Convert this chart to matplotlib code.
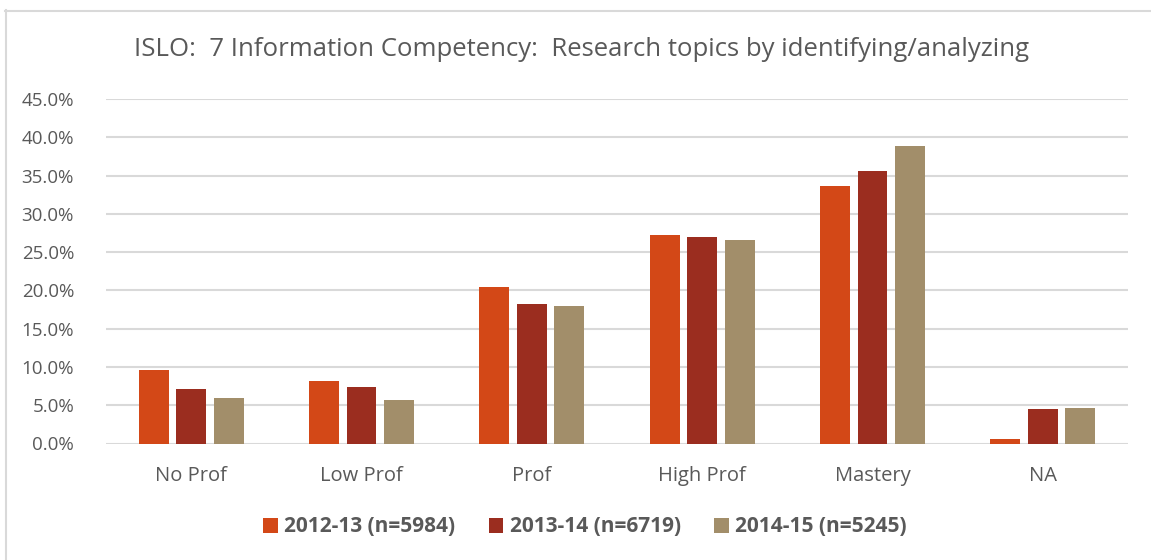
import numpy as np
import matplotlib.pyplot as plt
from matplotlib.lines import Line2D
from matplotlib.patches import Patch

categorias = ['No Prof', 'Low Prof', 'Prof', 'High Prof', 'Mastery', 'NA']
series = ['2012-13 (n=5984)', '2013-14 (n=6719)', '2014-15 (n=5245)']
v_2012 = [9.6, 8.2, 20.4, 27.2, 33.6, 0.6]
v_2013 = [7.1, 7.4, 18.2, 27.0, 35.6, 4.5]
v_2014 = [6.0, 5.7, 18.0, 26.6, 38.9, 4.6]
valores = [v_2012, v_2013, v_2014]
yticks = [0, 5, 10, 15, 20, 25, 30, 35, 40, 45]

COLORES = ['#D34817', '#9B2D1F', '#A28E6A']
GRIS = '#595959'
FUENTE = ['Open Sans', 'DejaVu Sans']

plt.rcParams['font.family'] = FUENTE

fig = plt.figure(figsize=(11.51, 5.60), dpi=100)
ax = fig.add_axes([106 / 1151, 1 - 443.5 / 560, (1128 - 106) / 1151, (443.5 - 99) / 560])

x = np.arange(len(categorias))
ancho = 0.176
paso = 0.221
for i, (vals, color) in enumerate(zip(valores, COLORES)):
    ax.bar(x + (i - 1) * paso, vals, width=ancho, color=color, zorder=3)

ax.set_xlim(-0.5, len(categorias) - 0.5)
ax.set_ylim(0, 45)
ax.set_yticks(yticks)
ax.set_yticklabels([f'{v:.1f}%' for v in yticks], fontsize=13.5, color=GRIS)
ax.set_xticks(x)
ax.set_xticklabels(categorias, fontsize=14.5, color=GRIS)
ax.tick_params(axis='x', length=0, pad=16)
ax.tick_params(axis='y', length=0, pad=23)
ax.grid(axis='y', color='#D9D9D9', linewidth=1.5, zorder=0)
for s in ax.spines.values():
    s.set_visible(False)

fig.text(582 / 1151, 1 - 49 / 560, 'ISLO:  7 Information Competency:  Research topics by identifying/analyzing',
         ha='center', va='center', fontsize=18.5, color=GRIS)

handles = [Patch(facecolor=c, edgecolor='none') for c in COLORES]
fig.legend(handles, series, loc='center', bbox_to_anchor=(585 / 1151, 1 - 527 / 560), ncol=3,
           frameon=False, handlelength=0.7, handleheight=0.7, handletextpad=0.3, columnspacing=1.6,
           prop={'size': 15, 'weight': 'bold'}, labelcolor=GRIS)

# borde del gráfico
fig.add_artist(Line2D([5 / 1151, 1], [1 - 10.5 / 560] * 2, color='#D9D9D9', linewidth=1.5))
fig.add_artist(Line2D([6 / 1151] * 2, [0, 1 - 10 / 560], color='#D9D9D9', linewidth=1.5))

plt.savefig('out.png', dpi=100)
